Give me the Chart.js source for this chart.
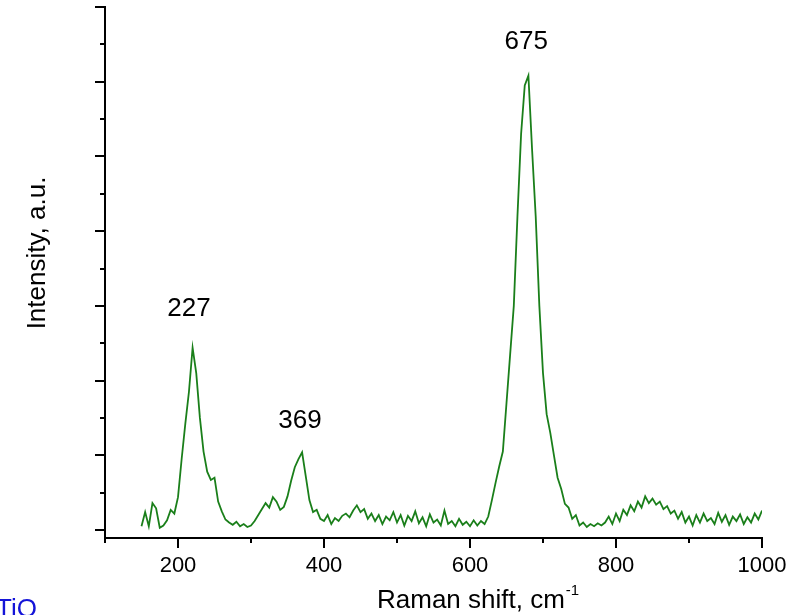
<!DOCTYPE html>
<html>
<head>
<meta charset="utf-8">
<title>Raman spectrum TiO2</title>
<script src="https://cdn.jsdelivr.net/npm/chart.js@4.4.1/dist/chart.umd.min.js"></script>
<style>
    body { margin: 0; background: #fff; }
    #wrap { width: 804px; height: 615px; }
</style>
</head>
<body>
<div id="wrap"><canvas id="chart" width="804" height="615"></canvas></div>
<script>
// Raman shift grid: first point and step, cm-1
const shiftStart = 150
const shiftStep = 5

// intensity (arb. units, one unit = one major tick), 150..1000 cm-1
const intensity = [
    0.05, 0.24, 0.05, 0.36, 0.29, 0.03, 0.06, 0.13, 0.27, 0.22,   // 150
    0.44, 0.95, 1.42, 1.85, 2.44, 2.10, 1.50, 1.05, 0.78, 0.67,   // 200
    0.70, 0.38, 0.25, 0.14, 0.10, 0.07, 0.11, 0.05, 0.08, 0.04,   // 250
    0.06, 0.12, 0.20, 0.28, 0.36, 0.30, 0.44, 0.38, 0.27, 0.31,   // 300
    0.45, 0.66, 0.84, 0.95, 1.04, 0.72, 0.40, 0.24, 0.27, 0.15,   // 350
    0.12, 0.20, 0.08, 0.16, 0.12, 0.19, 0.22, 0.17, 0.26, 0.33,   // 400
    0.24, 0.28, 0.15, 0.22, 0.12, 0.20, 0.08, 0.18, 0.13, 0.24,   // 450
    0.10, 0.20, 0.06, 0.19, 0.12, 0.25, 0.09, 0.17, 0.05, 0.21,   // 500
    0.10, 0.14, 0.06, 0.26, 0.08, 0.12, 0.05, 0.15, 0.07, 0.11,   // 550
    0.05, 0.13, 0.06, 0.12, 0.08, 0.18, 0.40, 0.63, 0.85, 1.05,   // 600
    1.70, 2.35, 3.00, 4.20, 5.30, 5.95, 6.08, 5.10, 4.20, 3.00,   // 650
    2.10, 1.55, 1.30, 1.00, 0.70, 0.55, 0.35, 0.30, 0.15, 0.20,   // 700
    0.06, 0.10, 0.04, 0.08, 0.05, 0.09, 0.06, 0.10, 0.18, 0.08,   // 750
    0.22, 0.12, 0.27, 0.20, 0.33, 0.25, 0.38, 0.30, 0.45, 0.36,   // 800
    0.42, 0.34, 0.38, 0.28, 0.32, 0.22, 0.26, 0.15, 0.24, 0.10,   // 850
    0.18, 0.06, 0.20, 0.10, 0.22, 0.12, 0.16, 0.08, 0.23, 0.11,   // 900
    0.20, 0.07, 0.18, 0.12, 0.21, 0.08, 0.17, 0.10, 0.22, 0.14,   // 950
    0.26                                                          // 1000
]

// peak labels and where their text sits (data units)
const peakLabels = ['227', '369', '675']
const peakLabelX = [215, 367, 677]
const peakLabelY = [2.96, 1.46, 6.53]

// x tick labels
const xTickLabels = [200, 400, 600, 800, 1000]

const FONT = "'Liberation Sans', Arial, sans-serif"
const GREEN = '#1a7f1a'

let points = []
intensity.forEach(function(v, i){
    points.push({ x: shiftStart + i * shiftStep, y: v })
})

/* draws ticks, axis titles, peak labels and the sample caption */
const decorations = {
    id: 'decorations',
    afterDraw(chart){
        const ctx = chart.ctx
        const xs = chart.scales.x
        const ys = chart.scales.y
        const area = chart.chartArea

        ctx.save()
        ctx.strokeStyle = '#000'
        ctx.lineWidth = 2

        // x ticks, outward
        for(let v = 100; v <= 1000; v += 100){
            const px = Math.round(xs.getPixelForValue(v))
            const len = (v % 200 === 0) ? 10 : 5
            ctx.beginPath()
            ctx.moveTo(px, area.bottom)
            ctx.lineTo(px, area.bottom + len)
            ctx.stroke()
        }
        // y ticks, outward
        for(let v = 0; v <= 7; v += 0.5){
            const py = Math.round(ys.getPixelForValue(v))
            const len = (v % 1 === 0) ? 10 : 5
            ctx.beginPath()
            ctx.moveTo(area.left, py)
            ctx.lineTo(area.left - len, py)
            ctx.stroke()
        }

        ctx.fillStyle = '#000'

        // peak labels
        ctx.font = '26px ' + FONT
        ctx.textAlign = 'center'
        ctx.textBaseline = 'middle'
        peakLabels.forEach(function(t, i){
            ctx.fillText(t, xs.getPixelForValue(peakLabelX[i]), ys.getPixelForValue(peakLabelY[i]))
        })

        // x title with superscript
        ctx.textAlign = 'left'
        ctx.textBaseline = 'alphabetic'
        const xTitle = 'Raman shift, cm'
        ctx.font = '26px ' + FONT
        ctx.fillText(xTitle, 377, 608)
        const w = ctx.measureText(xTitle).width
        ctx.font = '15px ' + FONT
        ctx.fillText('-1', 377 + w + 1, 595)

        // y title
        ctx.save()
        ctx.translate(45, 253)
        ctx.rotate(-Math.PI / 2)
        ctx.font = '26px ' + FONT
        ctx.textAlign = 'center'
        ctx.fillText('Intensity, a.u.', 0, 0)
        ctx.restore()

        // sample caption, cut at the page edge
        ctx.fillStyle = '#1414d8'
        ctx.font = '26px ' + FONT
        ctx.textAlign = 'left'
        ctx.fillText('TiO', -4, 617)
        const w2 = ctx.measureText('TiO').width
        ctx.font = '16px ' + FONT
        ctx.fillText('2', -4 + w2, 627)

        ctx.restore()
    }
}

const ctx = document.getElementById('chart').getContext('2d')
const myChart = new Chart(ctx, {
    type: 'line',
    data: {
        datasets: [{
            label: 'TiO2',
            data: points,
            borderColor: GREEN,
            borderWidth: 1.8,
            pointRadius: 0,
            tension: 0,
            fill: false
        }]
    },
    options: {
        responsive: false,
        animation: false,
        devicePixelRatio: 1,
        layout: { padding: { top: 7, right: 42, bottom: 0, left: 0 } },
        plugins: {
            legend: { display: false },
            tooltip: { enabled: false }
        },
        scales: {
            x: {
                type: 'linear',
                min: 100,
                max: 1000,
                afterFit(scale){ scale.height = 77 },
                afterBuildTicks(scale){
                    scale.ticks = xTickLabels.map(v => ({ value: v }))
                },
                ticks: {
                    color: '#000',
                    font: { size: 22, family: FONT },
                    padding: 15,
                    maxRotation: 0,
                    autoSkip: false,
                    callback: v => String(v)
                },
                grid: { display: true, drawOnChartArea: false, drawTicks: false },
                border: { display: true, color: '#000', width: 2 }
            },
            y: {
                min: -0.107,
                max: 7,
                afterFit(scale){ scale.width = 105 },
                ticks: { display: false },
                grid: { display: true, drawOnChartArea: false, drawTicks: false },
                border: { display: true, color: '#000', width: 2 }
            }
        }
    },
    plugins: [decorations]
})
</script>
</body>
</html>
